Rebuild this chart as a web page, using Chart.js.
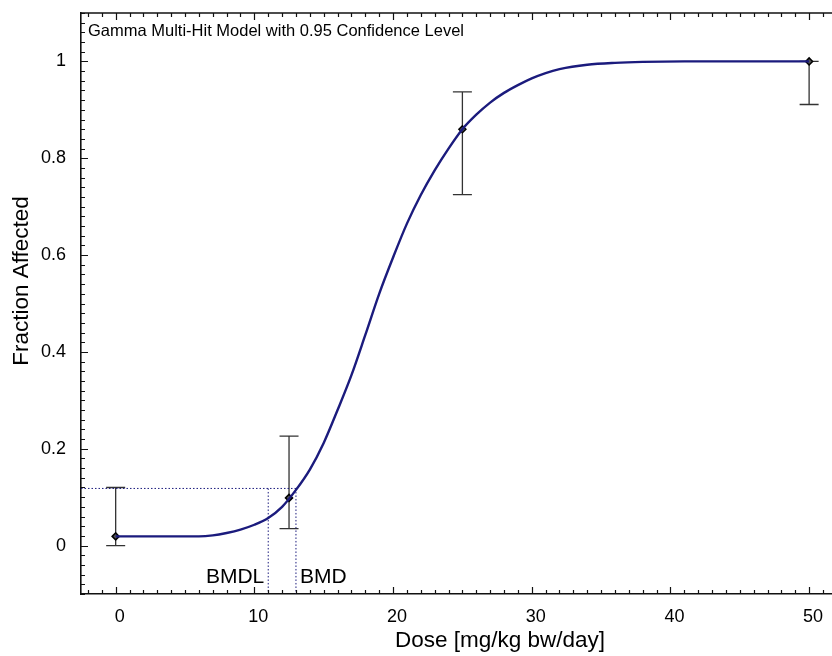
<!DOCTYPE html>
<html>
<head>
<meta charset="utf-8">
<script src="https://cdn.jsdelivr.net/npm/chart.js@4/dist/chart.umd.min.js"></script>
<style>
html,body{margin:0;padding:0;background:#fff;}
#wrap{width:832px;height:656px;position:relative;}
</style>
</head>
<body>
<div id="wrap"><canvas id="c" width="832" height="656"></canvas></div>
<script>
// ---- data ----
const doses = [0, 12.5, 25, 50];
const fractionAffected = [0.019, 0.0985, 0.86, 1.0];
const lowerCI = [0.0, 0.035, 0.725, 0.911];
const upperCI = [0.12, 0.226, 0.937, 1.0];

const curveDose = [0, 2, 4, 6, 7, 8, 9, 10, 11, 12, 13, 14, 15, 16, 17, 18, 19, 20, 21, 22, 23, 24, 25, 26, 27, 28, 29, 30, 31, 32, 34, 36, 38, 41, 45, 50];
const curveFraction = [0.019, 0.019, 0.019, 0.019, 0.021, 0.026, 0.033, 0.043, 0.057, 0.08, 0.115, 0.157, 0.212, 0.28, 0.352, 0.435, 0.52, 0.595, 0.665, 0.724, 0.775, 0.82, 0.86, 0.89, 0.915, 0.935, 0.951, 0.965, 0.976, 0.984, 0.993, 0.997, 0.999, 1.0, 1.0, 1.0];

const bmr = 0.118;
const bmd = 13.0;
const bmdl = 11.0;

const xTicks = [0, 10, 20, 30, 40, 50];
const yTicks = [0, 0.2, 0.4, 0.6, 0.8, 1];

const titleText = 'Gamma Multi-Hit Model with 0.95 Confidence Level';
const xTitle = 'Dose [mg/kg bw/day]';
const yTitle = 'Fraction Affected';

// ---- chart ----
const FONT = '"Liberation Sans", Arial, Helvetica, sans-serif';
const X_MIN = -2.5, X_MAX = 51.65, Y_MIN = -0.1, Y_MAX = 1.1;

const curvePts = curveDose.map((d, i) => ({x: d, y: curveFraction[i]}));
const obsPts = doses.map((d, i) => ({x: d, y: fractionAffected[i]}));

const decor = {
  id: 'decor',
  beforeDatasetsDraw(chart) {
    const ctx = chart.ctx, xs = chart.scales.x, ys = chart.scales.y;
    ctx.save();
    ctx.strokeStyle = '#333';
    ctx.lineWidth = 1.3;
    doses.forEach((d, i) => {
      const x = xs.getPixelForValue(d);
      const y1 = ys.getPixelForValue(lowerCI[i]);
      const y2 = ys.getPixelForValue(upperCI[i]);
      ctx.beginPath();
      ctx.moveTo(x, y1); ctx.lineTo(x, y2);
      ctx.moveTo(x - 9.5, y1); ctx.lineTo(x + 9.5, y1);
      ctx.moveTo(x - 9.5, y2); ctx.lineTo(x + 9.5, y2);
      ctx.stroke();
    });
    ctx.restore();
  },
  afterDraw(chart) {
    const ctx = chart.ctx, xs = chart.scales.x, ys = chart.scales.y;
    const a = chart.chartArea;
    ctx.save();
    ctx.strokeStyle = '#111';
    ctx.lineWidth = 1.6;
    ctx.beginPath();
    ctx.moveTo(a.left, a.top); ctx.lineTo(a.right, a.top);
    ctx.stroke();
    ctx.lineWidth = 1.2;
    ctx.beginPath();
    for (let v = Math.ceil(X_MIN); v <= Math.floor(X_MAX); v++) {
      const x = Math.round(xs.getPixelForValue(v)) + 0.5;
      const len = v % 10 === 0 ? 7 : 4;
      ctx.moveTo(x, a.bottom); ctx.lineTo(x, a.bottom - len);
      ctx.moveTo(x, a.top); ctx.lineTo(x, a.top + len);
    }
    for (let i = -5; i <= 55; i++) {
      const y = Math.round(ys.getPixelForValue(i * 0.02)) + 0.5;
      const len = i % 10 === 0 ? 7 : 4;
      ctx.moveTo(a.left, y); ctx.lineTo(a.left + len, y);
    }
    ctx.stroke();

    ctx.fillStyle = '#000';
    ctx.font = '16.5px ' + FONT;
    ctx.textAlign = 'left';
    ctx.textBaseline = 'middle';
    ctx.fillText(titleText, 88, 31);

    ctx.font = '21px ' + FONT;
    ctx.textBaseline = 'middle';
    const ly = 577;
    ctx.textAlign = 'right';
    ctx.fillText('BMDL', xs.getPixelForValue(bmdl) - 4, ly);
    ctx.textAlign = 'left';
    ctx.fillText('BMD', xs.getPixelForValue(bmd) + 4, ly);

    ctx.font = '22.5px ' + FONT;
    ctx.textAlign = 'center';
    ctx.textBaseline = 'middle';
    ctx.fillText(xTitle, 500, 641);
    ctx.translate(22, 281);
    ctx.rotate(-Math.PI / 2);
    ctx.fillText(yTitle, 0, 0);
    ctx.restore();
  }
};

const dotted = {borderColor: '#1b1b7d', borderWidth: 1, borderDash: [1.5, 2], pointRadius: 0, showLine: true, fill: false, tension: 0};

new Chart(document.getElementById('c'), {
  type: 'scatter',
  data: {
    datasets: [
      Object.assign({data: [{x: X_MIN, y: bmr}, {x: bmd, y: bmr}]}, dotted),
      Object.assign({data: [{x: bmdl, y: bmr}, {x: bmdl, y: Y_MIN}]}, dotted),
      Object.assign({data: [{x: bmd, y: bmr}, {x: bmd, y: Y_MIN}]}, dotted),
      {
        data: curvePts, showLine: true, borderColor: '#1b1b7d', borderWidth: 2.4,
        pointRadius: 0, cubicInterpolationMode: 'monotone', fill: false
      },
      {
        data: obsPts, pointStyle: 'rectRot', pointRadius: 3.5,
        backgroundColor: '#555', borderColor: '#000', borderWidth: 1.5, showLine: false
      }
    ]
  },
  options: {
    responsive: false,
    animation: false,
    devicePixelRatio: 1,
    layout: {autoPadding: false, padding: {top: 13, right: 0, left: 0, bottom: 0}},
    plugins: {legend: {display: false}, tooltip: {enabled: false}, title: {display: false}},
    scales: {
      x: {
        type: 'linear', min: X_MIN, max: X_MAX,
        afterBuildTicks: s => { s.ticks = xTicks.map(v => ({value: v})); },
        afterFit: s => { s.height = 62; s.paddingLeft = 0; s.paddingRight = 0; },
        grid: {drawOnChartArea: false, drawTicks: false},
        border: {display: true, color: '#111', width: 1.6},
        ticks: {font: {family: FONT, size: 18}, color: '#000', padding: 12, labelOffset: 4, maxRotation: 0, autoSkip: false,
                callback: v => String(v)}
      },
      y: {
        type: 'linear', min: Y_MIN, max: Y_MAX,
        afterBuildTicks: s => { s.ticks = yTicks.map(v => ({value: v})); },
        afterFit: s => { s.width = 81; s.paddingTop = 0; s.paddingBottom = 0; },
        grid: {drawOnChartArea: false, drawTicks: false},
        border: {display: true, color: '#111', width: 1.6},
        ticks: {font: {family: FONT, size: 18}, color: '#000', padding: 15, autoSkip: false,
                callback: v => String(Math.round(v * 10) / 10)}
      }
    }
  },
  plugins: [decor]
});
</script>
</body>
</html>
